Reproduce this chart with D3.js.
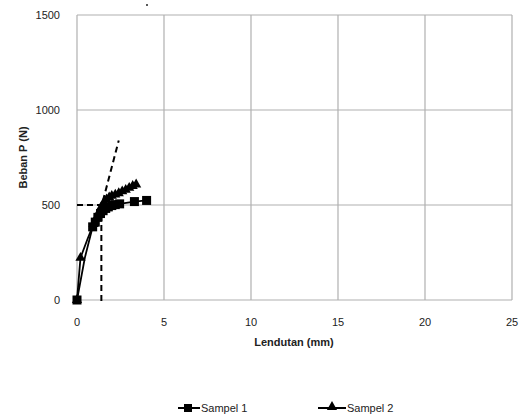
<!DOCTYPE html>
<html>
<head>
<meta charset="utf-8">
<script src="https://cdn.jsdelivr.net/npm/d3@7"></script>
<style>
  body { margin: 0; background: #fff; }
  text { font-family: "Liberation Sans", Arial, sans-serif; fill: #222; }
</style>
</head>
<body>
<script>
// data (lendutan mm, beban N)
var sampel1X = [0, 0.45, 0.9, 1.05, 1.2, 1.35, 1.5, 1.65, 1.8, 2.0, 2.2, 2.45, 3.3, 4.0];
var sampel1Y = [0, 222, 385, 410, 435, 455, 470, 482, 490, 497, 502, 506, 518, 524];
var sampel2X = [0, 0.2, 0.6, 0.95, 1.1, 1.25, 1.4, 1.55, 1.7, 1.85, 2.0, 2.2, 2.4, 2.6, 2.8, 3.0, 3.2, 3.4];
var sampel2Y = [0, 222, 320, 400, 430, 460, 490, 515, 530, 540, 548, 555, 562, 572, 580, 590, 600, 608];
var xTicks = [0, 5, 10, 15, 20, 25];
var yTicks = [0, 500, 1000, 1500];
// dashed construction lines
var tangentX = [1.2, 2.4], tangentY = [420, 840];
var yieldX = 1.4, yieldY = 500;

(function(){
  var width = 523, height = 418;
  var svg = d3.select("body").append("svg")
      .attr("width", width).attr("height", height);

  var x = d3.scaleLinear().domain([0, 25]).range([77, 512]);
  var y = d3.scaleLinear().domain([0, 1500]).range([300, 15]);

  // grid
  svg.selectAll(".vgrid").data(xTicks).enter().append("line")
      .attr("x1", d => x(d)).attr("x2", d => x(d))
      .attr("y1", y(0)).attr("y2", y(1500))
      .attr("stroke", "#b0b0b0").attr("stroke-width", 1.2);
  svg.selectAll(".hgrid").data(yTicks).enter().append("line")
      .attr("x1", x(0)).attr("x2", x(25))
      .attr("y1", d => y(d)).attr("y2", d => y(d))
      .attr("stroke", "#b0b0b0").attr("stroke-width", 1.2);

  // tick labels
  svg.selectAll(".xt").data(xTicks).enter().append("text")
      .attr("x", d => x(d)).attr("y", 326)
      .attr("text-anchor", "middle").attr("font-size", 11)
      .text(d => d);
  svg.selectAll(".yt").data(yTicks).enter().append("text")
      .attr("x", 60).attr("y", d => y(d) + 4)
      .attr("text-anchor", "end").attr("font-size", 11)
      .text(d => d);

  svg.append("text").attr("x", 294).attr("y", 346)
      .attr("text-anchor", "middle").attr("font-size", 11).attr("font-weight", "bold")
      .text("Lendutan (mm)");
  svg.append("text")
      .attr("transform", "translate(27," + y(750) + ") rotate(-90)")
      .attr("text-anchor", "middle").attr("font-size", 11).attr("font-weight", "bold")
      .text("Beban P (N)");
  svg.append("circle").attr("cx", 147).attr("cy", 5).attr("r", 1).attr("fill", "#222");

  // dashed lines
  var dash = "6,4";
  svg.append("line")
      .attr("x1", x(tangentX[0])).attr("y1", y(tangentY[0]))
      .attr("x2", x(tangentX[1])).attr("y2", y(tangentY[1]))
      .attr("stroke", "#000").attr("stroke-width", 2).attr("stroke-dasharray", dash);
  svg.append("line")
      .attr("x1", x(0)).attr("y1", y(yieldY))
      .attr("x2", x(yieldX + 0.1)).attr("y2", y(yieldY))
      .attr("stroke", "#000").attr("stroke-width", 2).attr("stroke-dasharray", dash);
  svg.append("line")
      .attr("x1", x(yieldX)).attr("y1", y(yieldY))
      .attr("x2", x(yieldX)).attr("y2", y(0) + 4)
      .attr("stroke", "#000").attr("stroke-width", 2).attr("stroke-dasharray", dash);

  var line = d3.line().x(d => x(d[0])).y(d => y(d[1]));
  var s1 = sampel1X.map((v, i) => [v, sampel1Y[i]]);
  var s2 = sampel2X.map((v, i) => [v, sampel2Y[i]]);

  svg.append("path").datum(s1).attr("d", line)
      .attr("fill", "none").attr("stroke", "#000").attr("stroke-width", 1.8);
  svg.append("path").datum(s2).attr("d", line)
      .attr("fill", "none").attr("stroke", "#000").attr("stroke-width", 1.8);

  // markers: first point (origin) and the cluster after the elastic part
  svg.selectAll(".sq").data(s1.filter(d => d[1] === 0 || d[1] > 300)).enter().append("rect")
      .attr("x", d => x(d[0]) - 4.5).attr("y", d => y(d[1]) - 4.5)
      .attr("width", 9).attr("height", 9).attr("fill", "#000");
  var tri = d3.symbol().type(d3.symbolTriangle).size(45);
  svg.selectAll(".tr").data(s2.filter(d => d[1] < 300 || d[1] > 350)).enter().append("path")
      .attr("d", tri)
      .attr("transform", d => "translate(" + x(d[0]) + "," + y(d[1]) + ")")
      .attr("fill", "#000");

  // legend
  var lg = svg.append("g");
  lg.append("line").attr("x1", 178).attr("x2", 200).attr("y1", 408).attr("y2", 408)
      .attr("stroke", "#000").attr("stroke-width", 2);
  lg.append("rect").attr("x", 184).attr("y", 404).attr("width", 8).attr("height", 8).attr("fill", "#000");
  lg.append("text").attr("x", 201).attr("y", 412).attr("font-size", 11).text("Sampel 1");
  lg.append("line").attr("x1", 318).attr("x2", 346).attr("y1", 408).attr("y2", 408)
      .attr("stroke", "#000").attr("stroke-width", 2);
  lg.append("path").attr("d", tri).attr("transform", "translate(332,407)").attr("fill", "#000");
  lg.append("text").attr("x", 347).attr("y", 412).attr("font-size", 11).text("Sampel 2");
})();
</script>
</body>
</html>
